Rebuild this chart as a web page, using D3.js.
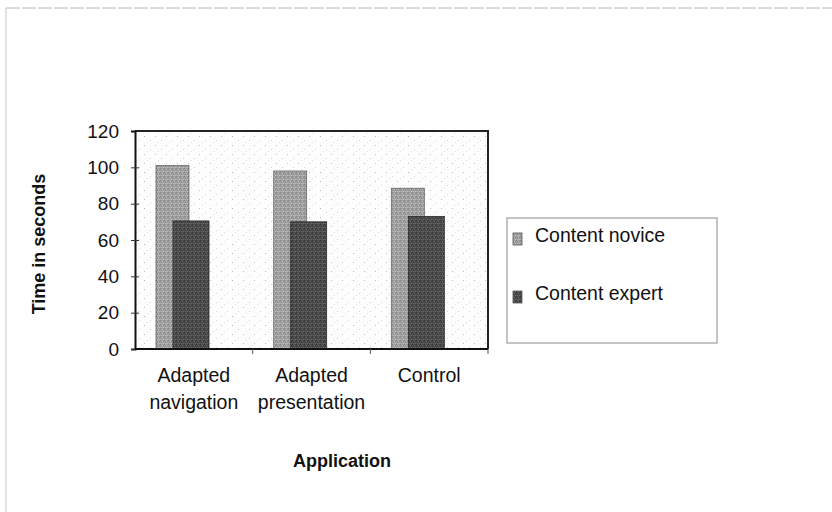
<!DOCTYPE html>
<html>
<head>
<meta charset="utf-8">
<script src="https://cdn.jsdelivr.net/npm/d3@7/dist/d3.min.js"></script>
<style>
  html, body { margin: 0; padding: 0; background: #fff; }
  svg { display: block; font-family: "Liberation Sans", Arial, sans-serif; }
</style>
</head>
<body>
<svg id="chart" width="832" height="512"></svg>
<script>
// Mean task time per application, by reader expertise
const categories = [["Adapted", "navigation"], ["Adapted", "presentation"], ["Control"]];
const seriesNames = ["Content novice", "Content expert"];
const noviceTimes = [101, 98, 88.5];
const expertTimes = [70.5, 70, 73];
const yTicks = [0, 20, 40, 60, 80, 100, 120];

const svg = d3.select("#chart");
const defs = svg.append("defs");

// Dithered fills
function dither(id, base, dark, light) {
  const p = defs.append("pattern").attr("id", id)
    .attr("patternUnits", "userSpaceOnUse").attr("width", 4).attr("height", 4);
  p.append("rect").attr("width", 4).attr("height", 4).attr("fill", base);
  [[0,0,dark],[2,1,light],[1,2,dark],[3,3,light],[3,1,dark],[1,3,light]].forEach(([x,y,c]) =>
    p.append("rect").attr("x", x).attr("y", y).attr("width", 1).attr("height", 1).attr("fill", c));
}
dither("novFill", "#a0a0a0", "#838383", "#c0c0c0");
dither("expFill", "#4c4c4c", "#343434", "#6c6c6c");

// Sparse stipple for the plot area
const bg = defs.append("pattern").attr("id", "bgFill")
  .attr("patternUnits", "userSpaceOnUse").attr("width", 11).attr("height", 9);
bg.append("rect").attr("width", 11).attr("height", 9).attr("fill", "#fdfdfd");
[[1,1,"#bdbdbd"],[7,5,"#d4d4d4"],[4,7,"#e0e0e0"]].forEach(([x,y,c]) =>
  bg.append("rect").attr("x", x).attr("y", y).attr("width", 1).attr("height", 1).attr("fill", c));

// Outer frame (top and left edges)
svg.append("line").attr("x1", 6).attr("x2", 832).attr("y1", 8).attr("y2", 8)
  .attr("stroke", "#b8b8b8").attr("stroke-width", 1).attr("stroke-dasharray", "14 2");
svg.append("line").attr("x1", 6).attr("x2", 6).attr("y1", 8).attr("y2", 512)
  .attr("stroke", "#c4c4c4").attr("stroke-width", 1);

const plot = { left: 135, right: 488, top: 131, bottom: 349 };

const x = d3.scaleBand().domain(d3.range(categories.length))
  .range([plot.left, plot.right]).padding(0);
const y = d3.scaleLinear().domain([0, 120]).range([plot.bottom, plot.top]);

// Plot area background
svg.append("rect")
  .attr("x", plot.left).attr("y", plot.top)
  .attr("width", plot.right - plot.left).attr("height", plot.bottom - plot.top)
  .attr("fill", "url(#bgFill)");

// Bars: novice behind, expert overlapping in front
const nov = { off: 21, w: 33 };
const exp = { off: 38, w: 36 };
svg.append("g").selectAll("rect").data(noviceTimes).join("rect")
  .attr("x", (d, i) => x(i) + nov.off).attr("width", nov.w)
  .attr("y", d => y(d)).attr("height", d => y(0) - y(d))
  .attr("fill", "url(#novFill)").attr("stroke", "#6a6a6a").attr("stroke-width", 0.8);
svg.append("g").selectAll("rect").data(expertTimes).join("rect")
  .attr("x", (d, i) => x(i) + exp.off).attr("width", exp.w)
  .attr("y", d => y(d)).attr("height", d => y(0) - y(d))
  .attr("fill", "url(#expFill)").attr("stroke", "#2a2a2a").attr("stroke-width", 0.8);

// Plot border: top and right
svg.append("path")
  .attr("d", `M${plot.left},${plot.top}H${plot.right}V${plot.bottom}`)
  .attr("fill", "none").attr("stroke", "#222").attr("stroke-width", 2);

// Y axis
const yAxis = svg.append("g").attr("transform", `translate(${plot.left},0)`)
  .call(d3.axisLeft(y).tickValues(yTicks).tickSize(4).tickPadding(12));
yAxis.select(".domain").attr("stroke", "#111").attr("stroke-width", 2);
yAxis.selectAll(".tick line").attr("x2", 4).attr("x1", -4).attr("stroke", "#333");
yAxis.selectAll(".tick text").attr("font-size", 19).attr("fill", "#111")
  .attr("font-family", "Liberation Sans, Arial, sans-serif");
yAxis.selectAll(".tick").filter(d => d === 120).select("line").remove();

// X axis line and category boundary ticks
svg.append("line").attr("x1", plot.left).attr("x2", plot.right)
  .attr("y1", plot.bottom).attr("y2", plot.bottom)
  .attr("stroke", "#111").attr("stroke-width", 2);
svg.append("g").selectAll("line").data(d3.range(1, categories.length + 1)).join("line")
  .attr("x1", i => x(i - 1) + x.bandwidth()).attr("x2", i => x(i - 1) + x.bandwidth())
  .attr("y1", plot.bottom).attr("y2", plot.bottom + 5)
  .attr("stroke", "#555").attr("stroke-width", 1);

// Category labels
const catG = svg.append("g");
categories.forEach((lines, i) => {
  const t = catG.append("text")
    .attr("x", x(i) + x.bandwidth() / 2).attr("y", 382)
    .attr("text-anchor", "middle").attr("font-size", 19.5).attr("fill", "#111");
  lines.forEach((ln, j) => t.append("tspan")
    .attr("x", x(i) + x.bandwidth() / 2).attr("dy", j === 0 ? 0 : 27).text(ln));
});

// Axis titles
svg.append("text").attr("x", 342).attr("y", 467)
  .attr("text-anchor", "middle").attr("font-size", 18).attr("font-weight", "bold")
  .attr("fill", "#111").text("Application");
svg.append("text")
  .attr("transform", `translate(45,${(plot.top + plot.bottom) / 2 + 4}) rotate(-90)`)
  .attr("text-anchor", "middle").attr("font-size", 18).attr("font-weight", "bold")
  .attr("fill", "#111").text("Time in seconds");

// Legend
const lg = { x: 507, y: 218, w: 210, h: 125 };
svg.append("rect").attr("x", lg.x).attr("y", lg.y).attr("width", lg.w).attr("height", lg.h)
  .attr("fill", "#fff").attr("stroke", "#8a8a8a").attr("stroke-width", 1);
const fills = ["url(#novFill)", "url(#expFill)"];
const legendY = d3.scalePoint().domain(seriesNames).range([lg.y + 18, lg.y + 76]);
seriesNames.forEach((name, i) => {
  const cy = legendY(name);
  svg.append("rect").attr("x", lg.x + 6).attr("y", cy - 3).attr("width", 9).attr("height", 12)
    .attr("fill", fills[i]).attr("stroke", "#555").attr("stroke-width", 0.8);
  svg.append("text").attr("x", lg.x + 28).attr("y", cy + 6)
    .attr("font-size", 19.5).attr("fill", "#111").text(name);
});
</script>
</body>
</html>
